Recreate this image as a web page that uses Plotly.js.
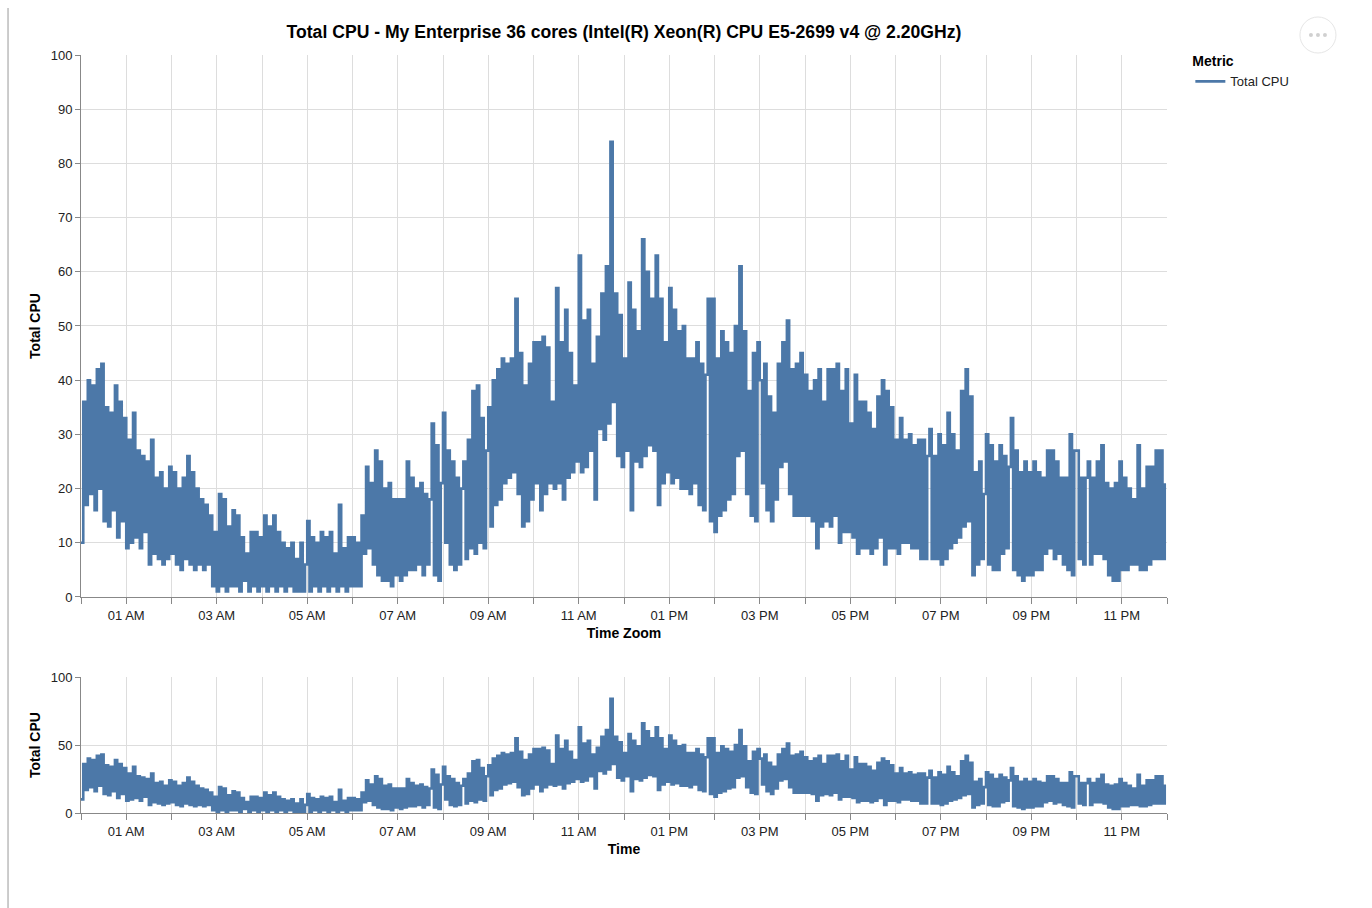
<!DOCTYPE html>
<html>
<head>
<meta charset="utf-8">
<script src="https://cdn.plot.ly/plotly-3.0.1.min.js"></script>
<style>
  html, body { margin: 0; padding: 0; background: #fff; }
  #chart { width: 1372px; height: 908px; }
</style>
</head>
<body>
<div id="chart"></div>
<script>
// ---- Data: Total CPU (%), one reading every 3 minutes, one array per hour ----
const chartTitle = "Total CPU - My Enterprise 36 cores (Intel(R) Xeon(R) CPU E5-2699 v4 @ 2.20GHz)";
const seriesName = "Total CPU";
const legendTitle = "Metric";
const startTime = Date.UTC(2021, 0, 1, 0, 0, 0);
const stepMinutes = 3;

const cpu_00 = [10, 36, 17, 40, 19, 39, 16, 42, 20, 43, 14, 35, 13, 34, 16, 39, 11, 36, 14, 33];
const cpu_01 = [9, 29, 10, 34, 11, 27, 9, 26, 12, 25, 6, 29, 8, 22, 7, 23, 6, 20, 7, 24];
const cpu_02 = [8, 23, 6, 20, 5, 22, 7, 26, 6, 23, 5, 20, 6, 18, 5, 17, 6, 15, 2, 12];
const cpu_03 = [1, 19, 2, 18, 1, 13, 2, 16, 2, 15, 1, 11, 3, 8, 1, 12, 2, 12, 1, 11];
const cpu_04 = [2, 15, 1, 13, 2, 15, 1, 12, 2, 10, 1, 9, 2, 10, 1, 7, 1, 10, 1, 6];
const cpu_05 = [14, 1, 11, 2, 10, 1, 12, 2, 11, 1, 12, 2, 8, 1, 17, 2, 9, 1, 11, 2];
const cpu_06 = [11, 2, 10, 2, 15, 8, 24, 9, 21, 6, 27, 4, 25, 3, 20, 3, 21, 2, 18, 4];
const cpu_07 = [18, 3, 18, 4, 25, 5, 22, 5, 20, 6, 21, 4, 19, 6, 18, 32, 4, 28, 3, 21];
const cpu_08 = [34, 10, 27, 6, 25, 5, 22, 6, 20, 25, 7, 29, 9, 38, 8, 39, 10, 33, 9, 27];
const cpu_09 = [35, 13, 40, 17, 42, 18, 44, 21, 43, 22, 44, 23, 55, 19, 45, 13, 39, 14, 43, 18];
const cpu_10 = [47, 21, 47, 16, 48, 19, 46, 21, 36, 20, 57, 21, 47, 18, 53, 22, 45, 23, 39, 25];
const cpu_11 = [63, 23, 51, 24, 53, 27, 43, 18, 48, 31, 56, 29, 61, 32, 84, 36, 56, 26, 52, 24];
const cpu_12 = [44, 27, 58, 16, 53, 25, 49, 24, 66, 26, 60, 28, 55, 27, 63, 17, 55, 21, 47, 23];
const cpu_13 = [57, 21, 53, 22, 49, 20, 50, 20, 44, 19, 44, 21, 47, 17, 43, 16, 41, 55, 14, 55];
const cpu_14 = [12, 44, 15, 49, 16, 47, 18, 45, 19, 50, 26, 61, 27, 49, 19, 38, 15, 45, 14, 47];
const cpu_15 = [40, 21, 43, 16, 37, 14, 34, 18, 43, 24, 47, 25, 51, 19, 42, 15, 43, 15, 45, 15];
const cpu_16 = [41, 15, 38, 14, 40, 9, 42, 13, 36, 14, 42, 13, 42, 15, 43, 10, 38, 12, 42, 12];
const cpu_17 = [32, 11, 41, 8, 36, 9, 36, 9, 34, 8, 31, 9, 37, 11, 40, 6, 38, 9, 35, 9];
const cpu_18 = [29, 8, 33, 10, 29, 10, 30, 9, 28, 9, 29, 7, 29, 7, 26, 31, 7, 26, 7, 30];
const cpu_19 = [6, 28, 7, 34, 9, 30, 10, 27, 11, 38, 13, 42, 14, 37, 4, 23, 6, 25, 7, 19];
const cpu_20 = [30, 6, 28, 5, 25, 5, 28, 8, 26, 9, 24, 33, 5, 27, 4, 23, 3, 25, 4, 23];
const cpu_21 = [4, 25, 5, 23, 5, 22, 8, 27, 9, 27, 7, 25, 8, 22, 6, 22, 5, 30, 4, 27];
const cpu_22 = [27, 7, 22, 6, 22, 25, 6, 22, 8, 25, 8, 28, 7, 21, 4, 20, 3, 21, 3, 25];
const cpu_23 = [5, 22, 5, 20, 6, 18, 6, 28, 5, 20, 5, 24, 6, 24, 7, 27, 7, 27, 7, 21];

const hourlyBlocks = [cpu_00, cpu_01, cpu_02, cpu_03, cpu_04, cpu_05, cpu_06, cpu_07,
  cpu_08, cpu_09, cpu_10, cpu_11, cpu_12, cpu_13, cpu_14, cpu_15,
  cpu_16, cpu_17, cpu_18, cpu_19, cpu_20, cpu_21, cpu_22, cpu_23];

const cpuValues = [].concat(...hourlyBlocks);
const times = cpuValues.map((_, i) => startTime + i * stepMinutes * 60000);

const HOUR = 3600000;
const FONT = "Liberation Sans, Arial, Helvetica, sans-serif";
const LINE_COLOR = "#4c78a8";

function xAxis(titleText, anchor) {
  return {
    type: "date",
    anchor: anchor,
    range: [startTime, startTime + 24 * HOUR],
    tick0: startTime + HOUR,
    dtick: 2 * HOUR,
    tickformat: "%I %p",
    ticks: "outside",
    ticklen: 6,
    tickcolor: "#888",
    showline: true,
    linecolor: "#888",
    linewidth: 1,
    showgrid: true,
    gridcolor: "#ddd",
    gridwidth: 1,
    zeroline: false,
    minor: { dtick: HOUR, tick0: startTime, showgrid: true, gridcolor: "#ddd", gridwidth: 1,
             ticks: "outside", ticklen: 6, tickcolor: "#888" },
    tickfont: { family: FONT, size: 13, color: "#222" },
    title: { text: "<b>" + titleText + "</b>", font: { family: FONT, size: 14, color: "#000" }, standoff: 6 },
    fixedrange: true
  };
}

function yAxis(domain, dtick, anchor) {
  return {
    domain: domain,
    anchor: anchor,
    range: [0, 100],
    dtick: dtick,
    tick0: 0,
    ticks: "outside",
    ticklen: 5,
    tickcolor: "#888",
    showline: true,
    linecolor: "#888",
    linewidth: 1,
    showgrid: true,
    gridcolor: "#ddd",
    zeroline: false,
    tickfont: { family: FONT, size: 13, color: "#222" },
    title: { text: "<b>Total CPU</b>", font: { family: FONT, size: 14, color: "#000" }, standoff: 6 },
    fixedrange: true
  };
}

const lineStyle = { color: LINE_COLOR, width: 2.6, shape: "hv", simplify: false };

const traces = [
  {
    type: "scatter", mode: "lines", x: times, y: cpuValues,
    xaxis: "x", yaxis: "y", name: seriesName,
    line: lineStyle, hoverinfo: "skip", showlegend: true
  },
  {
    type: "scatter", mode: "lines", x: times, y: cpuValues,
    xaxis: "x2", yaxis: "y2", name: seriesName,
    line: lineStyle, hoverinfo: "skip", showlegend: false
  }
];

// "more actions" button (decorative, top right)
const btnX = 1.139, btnY = (813 - 35) / 758;
function dot(dx) {
  return { type: "circle", xref: "paper", yref: "paper", xsizemode: "pixel", ysizemode: "pixel",
    xanchor: btnX, yanchor: btnY, x0: dx - 2, x1: dx + 2, y0: -2, y1: 2,
    line: { width: 0 }, fillcolor: "#d0d0d0" };
}

const layout = {
  width: 1372,
  height: 908,
  paper_bgcolor: "#fff",
  plot_bgcolor: "#fff",
  font: { family: FONT, color: "#000" },
  margin: { l: 81, r: 205, t: 55, b: 95, pad: 0 },
  title: {
    text: "<b>" + chartTitle + "</b>",
    font: { family: FONT, size: 17.6, color: "#000" },
    x: 0.5, xref: "paper", xanchor: "center",
    y: 1 - 32 / 908, yref: "container", yanchor: "middle"
  },
  xaxis: xAxis("Time Zoom", "y"),
  yaxis: yAxis([0.285, 1], 10, "x"),
  xaxis2: xAxis("Time", "y2"),
  yaxis2: yAxis([0, 0.1794], 50, "x2"),
  showlegend: true,
  legend: {
    x: 1.0215, xanchor: "left", y: 1.009, yanchor: "top",
    title: { text: "<b>" + legendTitle + "</b>", font: { family: FONT, size: 14, color: "#000" } },
    font: { family: FONT, size: 13, color: "#222" },
    itemwidth: 30,
    bgcolor: "rgba(0,0,0,0)",
    borderwidth: 0
  },
  shapes: [
    { type: "line", xref: "paper", yref: "paper", x0: -0.0672, x1: -0.0672, y0: 1.062, y1: -0.13,
      line: { color: "#999", width: 1 } },
    { type: "circle", xref: "paper", yref: "paper", xsizemode: "pixel", ysizemode: "pixel",
      xanchor: btnX, yanchor: btnY, x0: -18, x1: 18, y0: -18, y1: 18,
      line: { color: "#e6e6e6", width: 1 }, fillcolor: "rgba(0,0,0,0)" },
    dot(-7), dot(0), dot(7)
  ],
  hovermode: false
};

Plotly.newPlot("chart", traces, layout, { displayModeBar: false, staticPlot: true, responsive: false });
</script>
</body>
</html>
